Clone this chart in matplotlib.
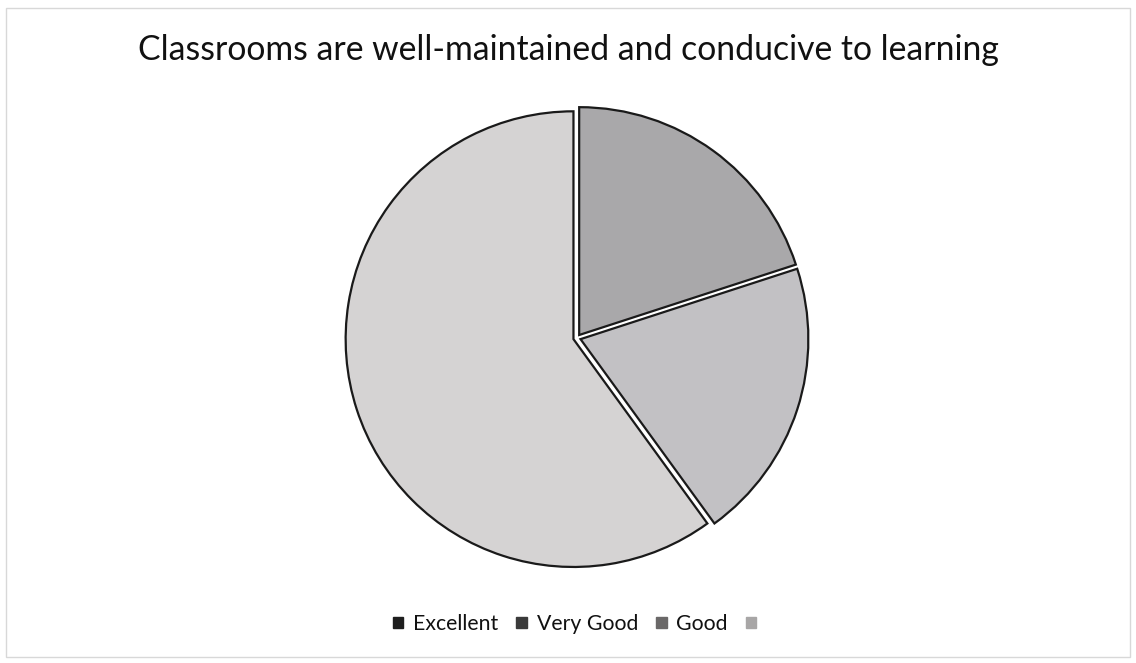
import matplotlib
matplotlib.use("Agg")
import matplotlib.pyplot as plt
from matplotlib.patches import Patch, Rectangle

categories = ["Excellent", "Very Good", "Good", ""]
values = [20, 20, 60, 0]
slice_colors = ["#a9a8aa", "#c2c1c4", "#d5d3d3", "#e0e0e0"]
legend_colors = ["#1e1e1e", "#3a3a3a", "#6a6868", "#a8a6a6"]
title = "Classrooms are well-maintained and conducive to learning"

plt.rcParams['font.family'] = ['Lato', 'DejaVu Sans']

W, H = 1136, 663
fig = plt.figure(figsize=(W / 100, H / 100), dpi=100)
fig.patch.set_facecolor("white")

# light frame around chart area
fig.add_artist(Rectangle((6 / W, 6 / H), 1 - 12 / W, 1 - 14 / H, transform=fig.transFigure,
                         fill=False, edgecolor="#d8d8d8", linewidth=1.0))

cx, cy, r = 577, 338, 232
ax = fig.add_axes([(cx - r) / W, (H - cy - r) / H, 2 * r / W, 2 * r / H])
nz = [(v, c) for v, c in zip(values, slice_colors) if v > 0]
wedges, _ = ax.pie([v for v, _ in nz], colors=[c for _, c in nz], startangle=90,
                   counterclock=False, explode=[0.016] * len(nz),
                   wedgeprops=dict(edgecolor="#1a1a1a", linewidth=1.6), radius=0.982)
ax.set_xlim(-1, 1)
ax.set_ylim(-1, 1)
ax.set_aspect("equal")
ax.axis("off")

fig.text(0.5, 1 - 50 / H, title, ha="center", va="center", fontsize=24.3, color="#111111")

handles = [Patch(facecolor=c, edgecolor=c) for c in legend_colors]
fig.legend(handles, categories, loc="center", bbox_to_anchor=(0.51, 1 - 624 / H), ncol=4,
           frameon=False, fontsize=15.3, handlelength=0.5, handleheight=0.42,
           handletextpad=0.45, columnspacing=0.85, labelcolor="#111111")

fig.savefig("out.png", dpi=100, facecolor="white")
